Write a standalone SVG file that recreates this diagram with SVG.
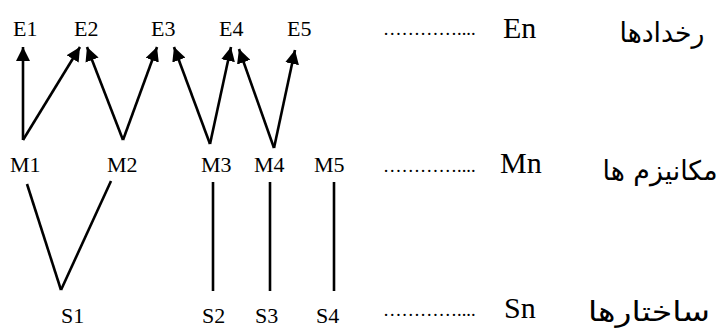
<svg xmlns="http://www.w3.org/2000/svg" width="719" height="331" viewBox="0 0 719 331">
<style>
.lbl{font-family:"Liberation Serif","Times New Roman",serif;font-size:22px;fill:#000}
.big{font-family:"Liberation Serif","Times New Roman",serif;font-size:30px;fill:#000}
.dots{font-family:"Liberation Serif","Times New Roman",serif;font-size:18.5px;fill:#000}
.fa{font-family:"DejaVu Sans","Noto Sans",sans-serif;font-size:27px;fill:#000}
.ln{stroke:#000;stroke-width:2.6;fill:none}
.ar{stroke:#000;stroke-width:2.6;fill:none;marker-end:url(#ah)}
</style>
<defs>
<marker id="ah" markerUnits="userSpaceOnUse" markerWidth="14" markerHeight="14" viewBox="0 0 14 14" refX="14" refY="7" orient="auto">
<path d="M0,0 L14,7 L0,14 z" fill="#000"/>
</marker>
</defs>
<rect width="719" height="331" fill="#fff"/>
<g id="connectors">
<line class="ar" x1="23" y1="140" x2="23" y2="47"/>
<line class="ar" x1="23" y1="140" x2="80" y2="47"/>
<line class="ar" x1="123" y1="140" x2="87" y2="47"/>
<line class="ar" x1="123" y1="140" x2="157" y2="47"/>
<line class="ar" x1="210" y1="144" x2="174" y2="47"/>
<line class="ar" x1="210" y1="144" x2="231" y2="47"/>
<line class="ar" x1="274" y1="148" x2="239" y2="49"/>
<line class="ar" x1="274" y1="148" x2="295" y2="50"/>
<line class="ln" x1="27" y1="184" x2="61" y2="290"/>
<line class="ln" x1="111" y1="181" x2="61" y2="290"/>
<line class="ln" x1="213" y1="182" x2="213" y2="291"/>
<line class="ln" x1="270" y1="182" x2="270" y2="291"/>
<line class="ln" x1="334" y1="182" x2="334" y2="291"/>
</g>
<g id="E1"><text class="lbl" x="13" y="36">E1</text></g>
<g id="E2"><text class="lbl" x="74" y="36">E2</text></g>
<g id="E3"><text class="lbl" x="151" y="36">E3</text></g>
<g id="E4"><text class="lbl" x="219" y="36">E4</text></g>
<g id="E5"><text class="lbl" x="287" y="36">E5</text></g>
<g id="En"><text class="dots" x="383" y="35">…………....</text><text class="big" x="503" y="38">En</text></g>
<g id="M1"><text class="lbl" x="10" y="172">M1</text></g>
<g id="M2"><text class="lbl" x="107" y="172">M2</text></g>
<g id="M3"><text class="lbl" x="201" y="172">M3</text></g>
<g id="M4"><text class="lbl" x="254" y="172">M4</text></g>
<g id="M5"><text class="lbl" x="314" y="172">M5</text></g>
<g id="Mn"><text class="dots" x="383" y="172">…………....</text><text class="big" x="500" y="173">Mn</text></g>
<g id="S1"><text class="lbl" x="61" y="323">S1</text></g>
<g id="S2"><text class="lbl" x="202" y="323">S2</text></g>
<g id="S3"><text class="lbl" x="255" y="323">S3</text></g>
<g id="S4"><text class="lbl" x="316" y="323">S4</text></g>
<g id="Sn"><text class="dots" x="383" y="316">…………....</text><text class="big" x="504" y="318">Sn</text></g>
<g id="events"><text class="fa" x="662" y="42" text-anchor="middle" direction="rtl" textLength="85" lengthAdjust="spacingAndGlyphs">رخدادها</text></g>
<g id="mechanisms"><text class="fa" x="660" y="180" text-anchor="middle" direction="rtl" textLength="115" lengthAdjust="spacingAndGlyphs">مکانیزم ها</text></g>
<g id="structures"><text class="fa" x="649" y="321" text-anchor="middle" direction="rtl" textLength="122" lengthAdjust="spacingAndGlyphs">ساختارها</text></g>
</svg>
